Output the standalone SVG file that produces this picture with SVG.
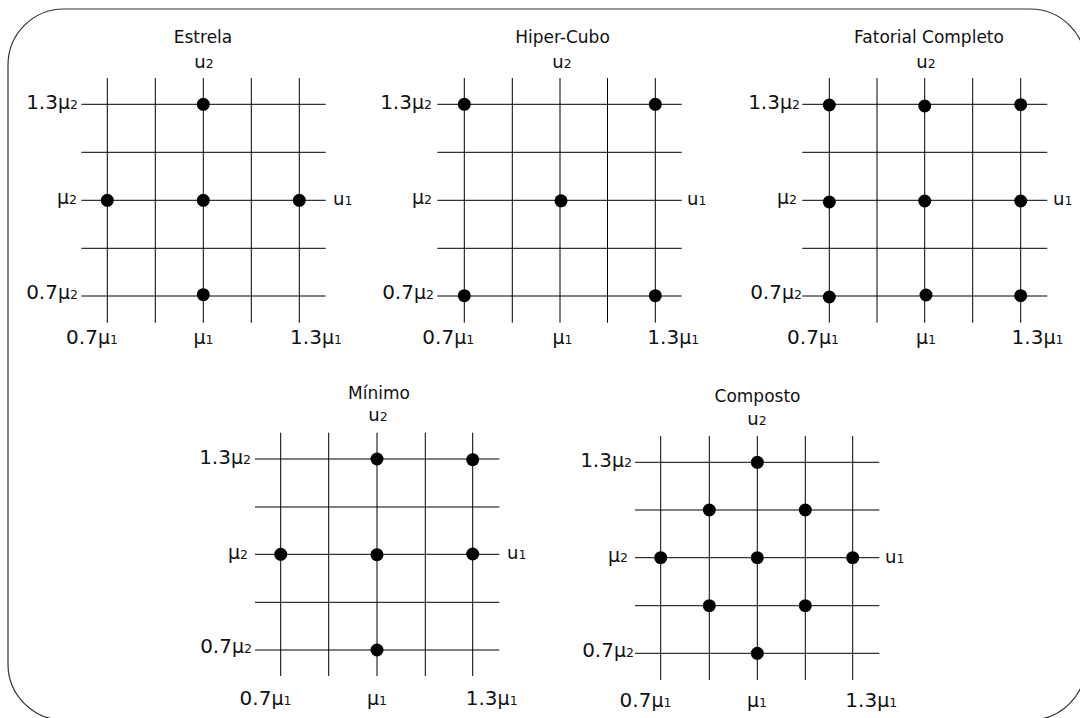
<svg xmlns="http://www.w3.org/2000/svg" width="1080" height="718" viewBox="0 0 1080 718">
<style>
text{font-family:"DejaVu Sans","Verdana",sans-serif;fill:#111}
.title{font-size:17px;text-anchor:middle}
.num{font-size:20px}
.mu{font-size:19px}
.sub{font-size:12.5px}
.u{font-size:18px}
.end{text-anchor:end}
.mid{text-anchor:middle}
.grid line{stroke:#000;stroke-width:1}
.dot{fill:#000}
.frame{fill:#fff;stroke:#333;stroke-width:1.2}
</style>
<rect width="1080" height="718" fill="#fff"/>
<rect class="frame" x="8" y="9" width="1078" height="711" rx="56" ry="56"/>

<g id="estrela">
<text class="title" x="203" y="42.7">Estrela</text>
<text class="u mid" x="204" y="68">u<tspan class="sub">2</tspan></text>
<g class="grid">
<line x1="107.3" y1="78" x2="107.3" y2="322.7"/><line x1="155.3" y1="78" x2="155.3" y2="322.7"/><line x1="203.3" y1="78" x2="203.3" y2="322.7"/><line x1="251.3" y1="78" x2="251.3" y2="322.7"/><line x1="299.3" y1="78" x2="299.3" y2="322.7"/>
<line x1="81.3" y1="104.3" x2="325.7" y2="104.3"/><line x1="81.3" y1="152.3" x2="325.7" y2="152.3"/><line x1="81.3" y1="200.3" x2="325.7" y2="200.3"/><line x1="81.3" y1="248.3" x2="325.7" y2="248.3"/><line x1="81.3" y1="296" x2="325.7" y2="296"/>
</g>
<circle class="dot" cx="203.3" cy="104.3" r="6.5"/><circle class="dot" cx="107.3" cy="200.3" r="6.5"/><circle class="dot" cx="203.3" cy="200.3" r="6.5"/><circle class="dot" cx="299.3" cy="200.3" r="6.5"/><circle class="dot" cx="203.3" cy="294.7" r="6.5"/>
<text class="num end" x="78" y="109">1.3<tspan class="mu">μ</tspan><tspan class="sub">2</tspan></text>
<text class="num end" x="77" y="204"><tspan class="mu">μ</tspan><tspan class="sub">2</tspan></text>
<text class="num end" x="78" y="299">0.7<tspan class="mu">μ</tspan><tspan class="sub">2</tspan></text>
<text class="u" x="333" y="204.5">u<tspan class="sub">1</tspan></text>
<text class="num mid" x="92" y="344">0.7<tspan class="mu">μ</tspan><tspan class="sub">1</tspan></text>
<text class="num mid" x="203.5" y="344"><tspan class="mu">μ</tspan><tspan class="sub">1</tspan></text>
<text class="num mid" x="316" y="344">1.3<tspan class="mu">μ</tspan><tspan class="sub">1</tspan></text>
</g>

<g id="hiper-cubo">
<text class="title" x="562.5" y="42.7">Hiper-Cubo</text>
<text class="u mid" x="562" y="68">u<tspan class="sub">2</tspan></text>
<g class="grid">
<line x1="464.3" y1="78" x2="464.3" y2="322.7"/><line x1="512.3" y1="78" x2="512.3" y2="322.7"/><line x1="560" y1="78" x2="560" y2="322.7"/><line x1="607.5" y1="78" x2="607.5" y2="322.7"/><line x1="655.3" y1="78" x2="655.3" y2="322.7"/>
<line x1="437.3" y1="104.3" x2="681.7" y2="104.3"/><line x1="437.3" y1="152.3" x2="681.7" y2="152.3"/><line x1="437.3" y1="200.3" x2="681.7" y2="200.3"/><line x1="437.3" y1="248.3" x2="681.7" y2="248.3"/><line x1="437.3" y1="296" x2="681.7" y2="296"/>
</g>
<circle class="dot" cx="464.3" cy="104.3" r="6.5"/><circle class="dot" cx="655.3" cy="104.3" r="6.5"/><circle class="dot" cx="561" cy="200.8" r="6.5"/><circle class="dot" cx="464.3" cy="295.7" r="6.5"/><circle class="dot" cx="655.3" cy="295.7" r="6.5"/>
<text class="num end" x="432" y="109">1.3<tspan class="mu">μ</tspan><tspan class="sub">2</tspan></text>
<text class="num end" x="432" y="204"><tspan class="mu">μ</tspan><tspan class="sub">2</tspan></text>
<text class="num end" x="434" y="299">0.7<tspan class="mu">μ</tspan><tspan class="sub">2</tspan></text>
<text class="u" x="687" y="204.5">u<tspan class="sub">1</tspan></text>
<text class="num mid" x="448.3" y="344">0.7<tspan class="mu">μ</tspan><tspan class="sub">1</tspan></text>
<text class="num mid" x="562.5" y="344"><tspan class="mu">μ</tspan><tspan class="sub">1</tspan></text>
<text class="num mid" x="673.3" y="344">1.3<tspan class="mu">μ</tspan><tspan class="sub">1</tspan></text>
</g>

<g id="fatorial-completo">
<text class="title" x="929" y="42.7">Fatorial Completo</text>
<text class="u mid" x="926" y="68">u<tspan class="sub">2</tspan></text>
<g class="grid">
<line x1="829.3" y1="78" x2="829.3" y2="322.7"/><line x1="877" y1="78" x2="877" y2="322.7"/><line x1="924.7" y1="78" x2="924.7" y2="322.7"/><line x1="972.7" y1="78" x2="972.7" y2="322.7"/><line x1="1020.7" y1="78" x2="1020.7" y2="322.7"/>
<line x1="802.3" y1="104.3" x2="1047.3" y2="104.3"/><line x1="802.3" y1="152.3" x2="1047.3" y2="152.3"/><line x1="802.3" y1="200.3" x2="1047.3" y2="200.3"/><line x1="802.3" y1="248.3" x2="1047.3" y2="248.3"/><line x1="802.3" y1="296" x2="1047.3" y2="296"/>
</g>
<circle class="dot" cx="829.3" cy="105" r="6.5"/><circle class="dot" cx="924.7" cy="106" r="6.5"/><circle class="dot" cx="1020.7" cy="104.7" r="6.5"/>
<circle class="dot" cx="829.3" cy="202" r="6.5"/><circle class="dot" cx="924.7" cy="201" r="6.5"/><circle class="dot" cx="1020.7" cy="201" r="6.5"/>
<circle class="dot" cx="829.3" cy="297" r="6.5"/><circle class="dot" cx="926" cy="295" r="6.5"/><circle class="dot" cx="1020.7" cy="295.7" r="6.5"/>
<text class="num end" x="800" y="109">1.3<tspan class="mu">μ</tspan><tspan class="sub">2</tspan></text>
<text class="num end" x="797" y="204"><tspan class="mu">μ</tspan><tspan class="sub">2</tspan></text>
<text class="num end" x="802" y="299">0.7<tspan class="mu">μ</tspan><tspan class="sub">2</tspan></text>
<text class="u" x="1053" y="204.5">u<tspan class="sub">1</tspan></text>
<text class="num mid" x="813" y="344">0.7<tspan class="mu">μ</tspan><tspan class="sub">1</tspan></text>
<text class="num mid" x="926" y="344"><tspan class="mu">μ</tspan><tspan class="sub">1</tspan></text>
<text class="num mid" x="1037.5" y="344">1.3<tspan class="mu">μ</tspan><tspan class="sub">1</tspan></text>
</g>

<g id="minimo">
<text class="title" x="379" y="399">Mínimo</text>
<text class="u mid" x="378" y="421">u<tspan class="sub">2</tspan></text>
<g class="grid">
<line x1="280.7" y1="432.7" x2="280.7" y2="676"/><line x1="328.7" y1="432.7" x2="328.7" y2="676"/><line x1="377" y1="432.7" x2="377" y2="676"/><line x1="425.3" y1="432.7" x2="425.3" y2="676"/><line x1="472.7" y1="432.7" x2="472.7" y2="676"/>
<line x1="255" y1="459" x2="499.3" y2="459"/><line x1="255" y1="507" x2="499.3" y2="507"/><line x1="255" y1="554.3" x2="499.3" y2="554.3"/><line x1="255" y1="602.3" x2="499.3" y2="602.3"/><line x1="255" y1="650" x2="499.3" y2="650"/>
</g>
<circle class="dot" cx="377" cy="459" r="6.5"/><circle class="dot" cx="472.7" cy="459.7" r="6.5"/>
<circle class="dot" cx="280.7" cy="554.3" r="6.5"/><circle class="dot" cx="377" cy="554.7" r="6.5"/><circle class="dot" cx="472.7" cy="554" r="6.5"/>
<circle class="dot" cx="377" cy="650" r="6.5"/>
<text class="num end" x="251" y="464">1.3<tspan class="mu">μ</tspan><tspan class="sub">2</tspan></text>
<text class="num end" x="248" y="558.7"><tspan class="mu">μ</tspan><tspan class="sub">2</tspan></text>
<text class="num end" x="252" y="653">0.7<tspan class="mu">μ</tspan><tspan class="sub">2</tspan></text>
<text class="u" x="507" y="558.5">u<tspan class="sub">1</tspan></text>
<text class="num mid" x="265.5" y="705">0.7<tspan class="mu">μ</tspan><tspan class="sub">1</tspan></text>
<text class="num mid" x="377" y="705"><tspan class="mu">μ</tspan><tspan class="sub">1</tspan></text>
<text class="num mid" x="491.7" y="705">1.3<tspan class="mu">μ</tspan><tspan class="sub">1</tspan></text>
</g>

<g id="composto">
<text class="title" x="757.5" y="401.7">Composto</text>
<text class="u mid" x="757" y="425">u<tspan class="sub">2</tspan></text>
<g class="grid">
<line x1="660.7" y1="436" x2="660.7" y2="680"/><line x1="709.3" y1="436" x2="709.3" y2="680"/><line x1="757.3" y1="436" x2="757.3" y2="680"/><line x1="805.3" y1="436" x2="805.3" y2="680"/><line x1="852.7" y1="436" x2="852.7" y2="680"/>
<line x1="635" y1="462.3" x2="879.3" y2="462.3"/><line x1="635" y1="510" x2="879.3" y2="510"/><line x1="635" y1="557.7" x2="879.3" y2="557.7"/><line x1="635" y1="605.7" x2="879.3" y2="605.7"/><line x1="635" y1="653.3" x2="879.3" y2="653.3"/>
</g>
<circle class="dot" cx="757.3" cy="462.3" r="6.5"/>
<circle class="dot" cx="709.3" cy="510" r="6.5"/><circle class="dot" cx="805.3" cy="510" r="6.5"/>
<circle class="dot" cx="660.7" cy="557.7" r="6.5"/><circle class="dot" cx="757.3" cy="557.7" r="6.5"/><circle class="dot" cx="852.7" cy="557.7" r="6.5"/>
<circle class="dot" cx="709.3" cy="605.7" r="6.5"/><circle class="dot" cx="805.3" cy="605.7" r="6.5"/>
<circle class="dot" cx="757.3" cy="653.3" r="6.5"/>
<text class="num end" x="632" y="466.7">1.3<tspan class="mu">μ</tspan><tspan class="sub">2</tspan></text>
<text class="num end" x="628" y="562"><tspan class="mu">μ</tspan><tspan class="sub">2</tspan></text>
<text class="num end" x="634" y="657.3">0.7<tspan class="mu">μ</tspan><tspan class="sub">2</tspan></text>
<text class="u" x="885" y="562.7">u<tspan class="sub">1</tspan></text>
<text class="num mid" x="645.5" y="706.7">0.7<tspan class="mu">μ</tspan><tspan class="sub">1</tspan></text>
<text class="num mid" x="757" y="706.7"><tspan class="mu">μ</tspan><tspan class="sub">1</tspan></text>
<text class="num mid" x="871.3" y="706.7">1.3<tspan class="mu">μ</tspan><tspan class="sub">1</tspan></text>
</g>
</svg>
